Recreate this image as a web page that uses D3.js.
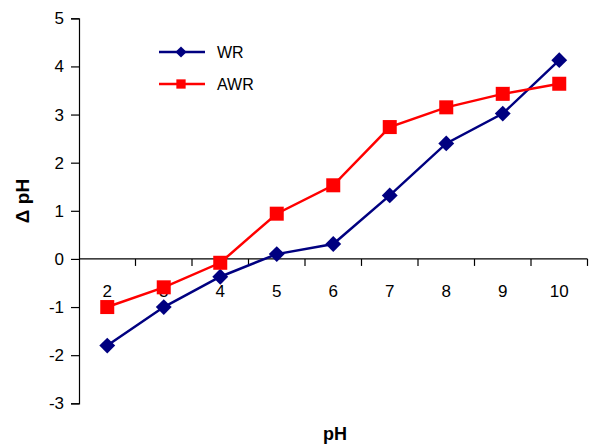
<!DOCTYPE html>
<html>
<head>
<meta charset="utf-8">
<script src="https://cdn.jsdelivr.net/npm/d3@7"></script>
<style>
  body { margin: 0; background: #fff; }
  svg { display: block; font-family: "Liberation Sans", Arial, sans-serif; }
</style>
</head>
<body>
<svg id="chart"></svg>
<script>
const categories = ["2", "3", "4", "5", "6", "7", "8", "9", "10"];
const wrValues = [-1.8, -1.0, -0.37, 0.1, 0.31, 1.32, 2.4, 3.02, 4.13];
const awrValues = [-1.0, -0.59, -0.08, 0.94, 1.53, 2.74, 3.15, 3.43, 3.64];
const yTicks = [-3, -2, -1, 0, 1, 2, 3, 4, 5];

const series = [
  { name: "WR", values: wrValues, color: "#000080", marker: d3.symbolDiamond2 },
  { name: "AWR", values: awrValues, color: "#ff0000", marker: d3.symbolSquare2 },
];

const width = 589;
const height = 444;
const margin = { top: 18.3, right: 1.5, bottom: 40.7, left: 79 };

const svg = d3.select("#chart").attr("width", width).attr("height", height);

const xScale = d3
  .scaleBand()
  .domain(categories)
  .range([margin.left, width - margin.right]);

const yScale = d3
  .scaleLinear()
  .domain([-3, 5])
  .range([height - margin.bottom, margin.top]);

// y axis (plain hyphen for negatives, like the original)
const yAxis = d3
  .axisLeft(yScale)
  .tickValues(yTicks)
  .tickFormat((d) => String(d))
  .tickSize(8)
  .tickPadding(7);
const gy = svg
  .append("g")
  .attr("transform", "translate(" + margin.left + ",0)")
  .call(yAxis);
gy.select(".domain").attr("stroke", "#000").attr("stroke-width", 1.2);
gy.selectAll(".tick line").attr("stroke", "#000").attr("stroke-width", 1.2);
gy.selectAll(".tick text")
  .attr("font-size", 17)
  .attr("fill", "#000")
  .attr("font-family", "Liberation Sans, Arial, sans-serif");

// x axis at y = 0, ticks on band boundaries
const y0 = yScale(0);
svg
  .append("line")
  .attr("x1", margin.left)
  .attr("x2", width - margin.right)
  .attr("y1", y0)
  .attr("y2", y0)
  .attr("stroke", "#000")
  .attr("stroke-width", 1.2);

const bounds = categories.slice(1).map((c) => xScale(c));
bounds.push(xScale(categories[categories.length - 1]) + xScale.bandwidth());
svg
  .selectAll(".xtick")
  .data(bounds)
  .enter()
  .append("line")
  .attr("class", "xtick")
  .attr("x1", (d) => d)
  .attr("x2", (d) => d)
  .attr("y1", y0)
  .attr("y2", y0 + 7)
  .attr("stroke", "#000")
  .attr("stroke-width", 1.2);

svg
  .selectAll(".xlabel")
  .data(categories)
  .enter()
  .append("text")
  .attr("class", "xlabel")
  .attr("x", (d) => xScale(d) + xScale.bandwidth() / 2)
  .attr("y", y0 + 38)
  .attr("text-anchor", "middle")
  .attr("font-size", 17)
  .text((d) => d);

// series
const line = d3
  .line()
  .x((d, i) => xScale(categories[i]) + xScale.bandwidth() / 2)
  .y((d) => yScale(d));

series.forEach((s) => {
  svg
    .append("path")
    .datum(s.values)
    .attr("fill", "none")
    .attr("stroke", s.color)
    .attr("stroke-width", 2.5)
    .attr("d", line);

  svg
    .selectAll(".m-" + s.name)
    .data(s.values)
    .enter()
    .append("path")
    .attr("class", "m-" + s.name)
    .attr("transform", (d, i) => {
      return (
        "translate(" +
        (xScale(categories[i]) + xScale.bandwidth() / 2) +
        "," +
        yScale(d) +
        ")"
      );
    })
    .attr("d", d3.symbol().type(s.marker).size(s.name === "WR" ? 160 : 250))
    .attr("fill", s.color)
    .attr("stroke", "none");
});

// legend
const legend = svg.append("g").attr("transform", "translate(159,52)");
series.forEach((s, i) => {
  const g = legend.append("g").attr("transform", "translate(0," + i * 32 + ")");
  g.append("line")
    .attr("x1", 0)
    .attr("x2", 46)
    .attr("stroke", s.color)
    .attr("stroke-width", 2.5);
  g.append("path")
    .attr("transform", "translate(22,0)")
    .attr("d", d3.symbol().type(s.marker).size(s.name === "WR" ? 80 : 110))
    .attr("fill", s.color);
  g.append("text")
    .attr("x", 58)
    .attr("y", 6)
    .attr("font-size", 16)
    .text(s.name);
});

// axis titles
svg
  .append("text")
  .attr("transform", "translate(29,201) rotate(-90)")
  .attr("text-anchor", "middle")
  .attr("font-size", 19)
  .attr("font-weight", "bold")
  .text("Δ pH");

svg
  .append("text")
  .attr("x", 335)
  .attr("y", 440)
  .attr("text-anchor", "middle")
  .attr("font-size", 18)
  .attr("font-weight", "bold")
  .text("pH");
</script>
</body>
</html>
